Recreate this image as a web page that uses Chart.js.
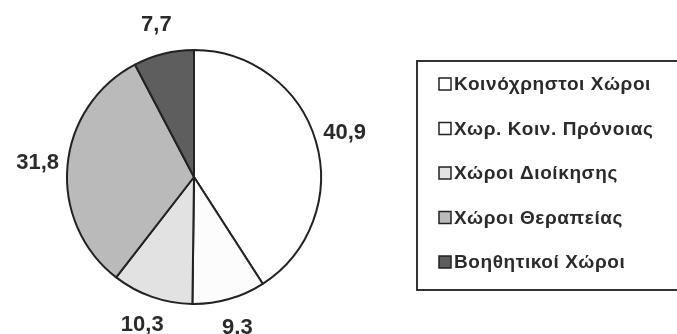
<!DOCTYPE html>
<html>
<head>
<meta charset="utf-8">
<script src="https://cdn.jsdelivr.net/npm/chart.js@4/dist/chart.umd.min.js"></script>
<style>
  html, body { margin: 0; padding: 0; background: #fff; }
  #wrap { width: 677px; height: 334px; position: relative; }
</style>
</head>
<body>
<div id="wrap"><canvas id="pieChart"></canvas></div>
<script>
// ── Data ──
const categories = ['Κοινόχρηστοι Χώροι', 'Χωρ. Κοιν. Πρόνοιας', 'Χώροι Διοίκησης', 'Χώροι Θεραπείας', 'Βοηθητικοί Χώροι'];
const shares = [40.9, 9.3, 10.3, 31.8, 7.7];
const sliceColors = ['#ffffff', '#fcfcfc', '#e2e2e2', '#bababa', '#5e5e5e'];

// ── Value labels outside the slices ──
const outsideLabels = {
  id: 'outsideLabels',
  afterDatasetsDraw(chart) {
    const ctx = chart.ctx;
    const meta = chart.getDatasetMeta(0);
    ctx.save();
    ctx.font = 'bold 22px "Liberation Sans", Arial, sans-serif';
    ctx.fillStyle = '#2a2a2a';
    ctx.textAlign = 'center';
    ctx.textBaseline = 'middle';
    meta.data.forEach((arc, i) => {
      const p = arc.getProps(['x', 'y', 'startAngle', 'endAngle', 'outerRadius'], true);
      const mid = (p.startAngle + p.endAngle) / 2;
      const r = p.outerRadius + 30;
      const txt = shares[i].toFixed(1).replace('.', ',');
      ctx.fillText(txt, p.x + Math.cos(mid) * r, p.y + Math.sin(mid) * r);
    });
    ctx.restore();
  }
};

// ── Boxed legend on the right ──
const boxLegend = {
  id: 'boxLegend',
  afterDraw(chart) {
    const ctx = chart.ctx;
    const left = 416, top = 60, bottom = 289;
    ctx.save();
    ctx.strokeStyle = '#333';
    ctx.lineWidth = 2;
    ctx.strokeRect(left + 1, top + 1, 300, bottom - top);
    ctx.font = 'bold 19px "Liberation Sans", Arial, sans-serif';
    ctx.letterSpacing = '0.6px';
    ctx.textBaseline = 'middle';
    ctx.textAlign = 'left';
    categories.forEach((c, i) => {
      const y = 84 + i * 44.5;
      ctx.fillStyle = sliceColors[i];
      ctx.fillRect(439, y - 6, 12, 12);
      ctx.lineWidth = 1.5;
      ctx.strokeStyle = '#222';
      ctx.strokeRect(439, y - 6, 12, 12);
      ctx.fillStyle = '#2a2a2a';
      ctx.fillText(c, 454, y + 1);
    });
    ctx.restore();
  }
};

new Chart(document.getElementById('pieChart'), {
  type: 'pie',
  data: {
    labels: categories,
    datasets: [{
      data: shares,
      backgroundColor: sliceColors,
      borderColor: '#222',
      borderWidth: 2
    }]
  },
  options: {
    responsive: true,
    maintainAspectRatio: false,
    animation: false,
    layout: { padding: { left: 66, right: 355, top: 49, bottom: 29 } },
    plugins: {
      legend: { display: false },
      tooltip: { enabled: false }
    }
  },
  plugins: [outsideLabels, boxLegend]
});
</script>
</body>
</html>
